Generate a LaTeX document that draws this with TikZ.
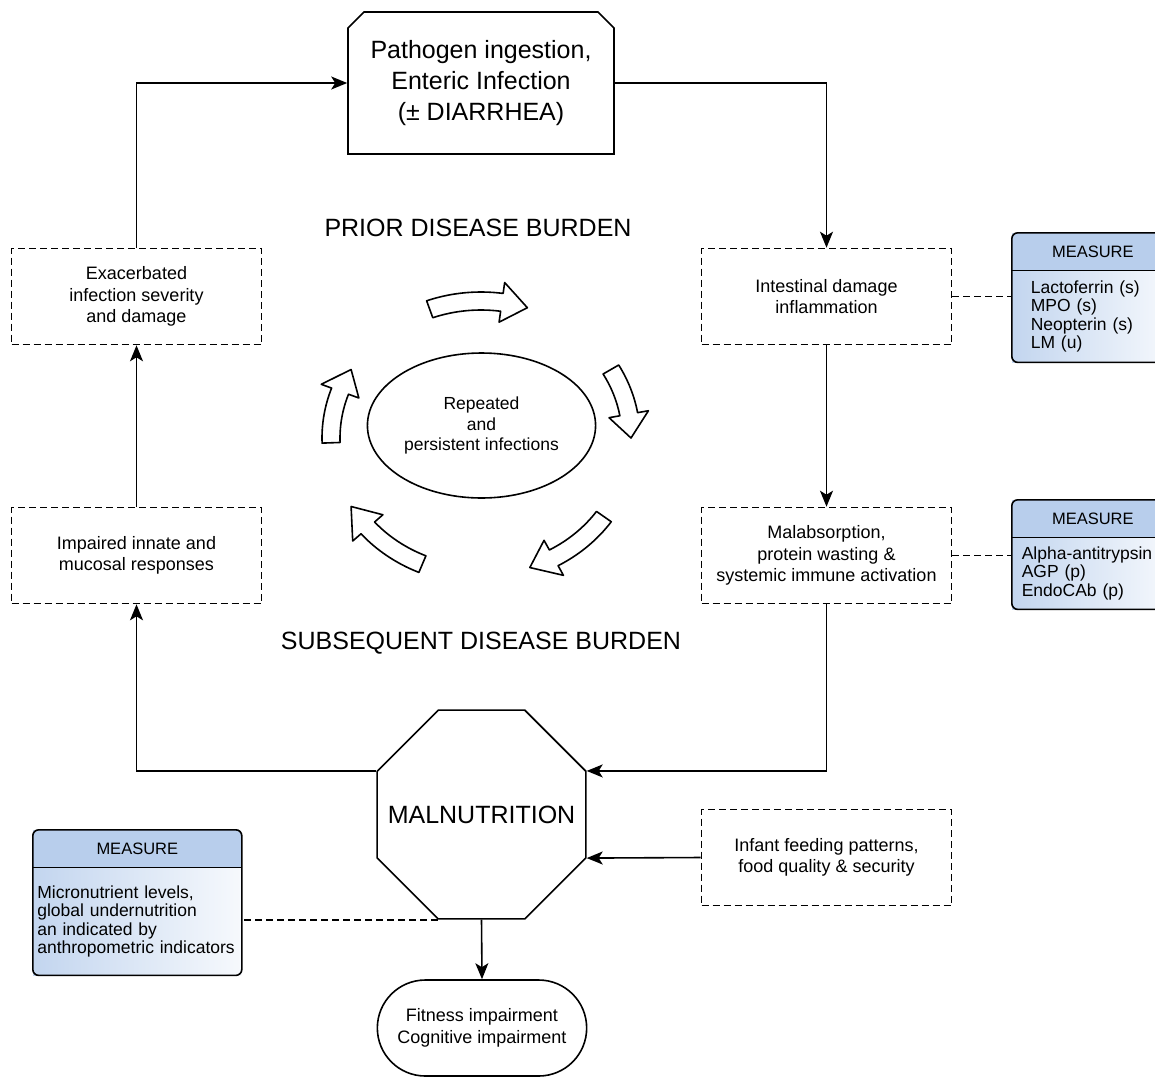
\documentclass[tikz,border=0pt]{standalone}
\usepackage{fontspec}
\setmainfont{Liberation Sans}
\usetikzlibrary{arrows.meta,positioning,shapes.geometric,shapes.misc,fit,backgrounds}
\definecolor{measblue}{RGB}{184,206,236}

\begin{document}
\begin{tikzpicture}[x=1pt,y=1pt,line width=1.6pt,
    flow/.style={-{Stealth[length=16pt,width=13pt,inset=4pt]}},
    link/.style={dash pattern=on 7pt off 4pt},
    dbox/.style={draw,link,minimum width=250pt,minimum height=96pt,align=center,
        font=\fontsize{18}{21.5}\selectfont},
    bigtext/.style={font=\fontsize{25}{31}\selectfont},
    mhead/.style={minimum height=36pt,inner sep=0pt,font=\fontsize{16.5}{18}\selectfont},
    mbody/.style={align=left,inner ysep=0pt,font=\fontsize{17.5}{18.5}\selectfont},
    mframe/.style={inner sep=0pt,left color=measblue!85,right color=measblue!12},
    cycarrow/.style={draw,fill=white,line width=1.6pt,line join=round}]

    \useasboundingbox (0,0) rectangle (1155,-1079);

    % Main boxes
    \node[draw,chamfered rectangle,chamfered rectangle corners={north west,north east},
        chamfered rectangle xsep=8pt,chamfered rectangle ysep=8pt,
        minimum width=266pt,minimum height=142pt,inner sep=0pt,align=center,bigtext] (patho) at (481,-83)
        {Pathogen ingestion,\\Enteric Infection\\(± DIARRHEA)};
    \node[dbox] (intest) at (826.5,-296.5) {Intestinal damage\\inflammation};
    \node[dbox] (malab) at (826.5,-555.5) {Malabsorption,\\protein wasting \&\\systemic immune activation};
    \node[dbox] (feed) at (826.5,-857.5) {Infant feeding patterns,\\food quality \& security};
    \node[dbox] (exac) at (136.5,-296.5) {Exacerbated\\infection severity\\and damage};
    \node[dbox] (impair) at (136.5,-555.5) {Impaired innate and\\mucosal responses};

    % Octagon and outcome
    \node[draw,regular polygon,regular polygon sides=8,minimum size=226pt,inner sep=0pt,bigtext] (maln) at (481.5,-814.5)
        {\makebox[0pt]{MALNUTRITION}};
    \node[draw,rounded rectangle,minimum width=216pt,minimum height=96pt,align=center,
        font=\fontsize{18}{21.5}\selectfont] (fitimp) at (482,-1028) {Fitness impairment\\Cognitive impairment};

    % Centre of the cycle
    \node[bigtext] (prior) at (478,-228) {PRIOR DISEASE BURDEN};
    \node[bigtext] (subseq) at (481,-643) {SUBSEQUENT DISEASE BURDEN};
    \node[draw,ellipse,minimum width=227pt,minimum height=145pt,align=center,
        font=\fontsize{17.5}{20.5}\selectfont] (repeat) at (481.5,-425.5) {Repeated\\and\\persistent infections};

    % Curved block arrows round the ellipse (start / head base / tip)
    \begin{scope}[shift={(481,-438)}]
        \foreach \a/\b/\c in {110/82/72, 30/10/0, -35/-61/-71, -113/-139/-150, 182/160/150}
            \draw[cycarrow] (\a:159 and 146) arc[start angle=\a,end angle=\b,x radius=159,y radius=146]
                -- (\b:170 and 157) -- (\c:150 and 137) -- (\b:130 and 117) -- (\b:141 and 128)
                arc[start angle=\b,end angle=\a,x radius=141,y radius=128] -- cycle;
    \end{scope}

    % Measure boxes
    \node[mhead,minimum width=160pt,anchor=north west] (m1h) at (1012,-233) {MEASURE};
    \node[mbody,below=0pt of m1h,inner xsep=18pt,text width=124pt,minimum height=90pt] (m1b)
        {Lactoferrin (s)\\MPO (s)\\Neopterin (s)\\LM (u)};
    \node[mhead,minimum width=160pt,anchor=north west] (m2h) at (1012,-500) {MEASURE};
    \node[mbody,below=0pt of m2h,inner xsep=9pt,text width=142pt,minimum height=70pt] (m2b)
        {Alpha-antitrypsin\\AGP (p)\\EndoCAb (p)};
    \node[mhead,minimum width=207pt,anchor=north west] (m3h) at (33,-830) {MEASURE};
    \node[mbody,below=0pt of m3h,inner xsep=3.5pt,text width=200pt,minimum height=106pt] (m3b)
        {Micronutrient levels,\\global undernutrition\\an indicated by\\anthropometric indicators};

    \begin{scope}[on background layer]
        \foreach \m in {m1,m2,m3} {
            \node[mframe,fit=(\m h)(\m b)] (\m) {};
            \fill[measblue] (\m h.south west) [rounded corners=6pt] -- (\m h.north west)
                -- (\m h.north east) [sharp corners] -- (\m h.south east) -- cycle;
        }
    \end{scope}
    \foreach \m in {m1,m2,m3} {
        \draw[rounded corners=6pt] (\m.south west) rectangle (\m.north east);
        \draw (\m h.south west) -- (\m h.south east);
    }

    % Connectors
    \draw[flow] (exac.north) |- (patho.west);
    \draw[flow] (patho.east) -| (intest.north);
    \draw[flow] (intest) -- (malab);
    \draw[flow] (malab.south) |- (maln.corner 8);
    \draw[flow] (feed.west) -- (maln.corner 7);
    \draw[flow] (maln.corner 3) -| (impair.south);
    \draw[flow] (impair) -- (exac);
    \draw[flow] (maln.south) -- (fitimp.north);

    % Dashed links to the measures
    \draw[link] (intest.east) -- (intest.east -| m1.west);
    \draw[link] (malab.east) -- (malab.east -| m2.west);
    \draw[link] (maln.corner 5) -- (maln.corner 5 -| m3.east);

\end{tikzpicture}
\end{document}
